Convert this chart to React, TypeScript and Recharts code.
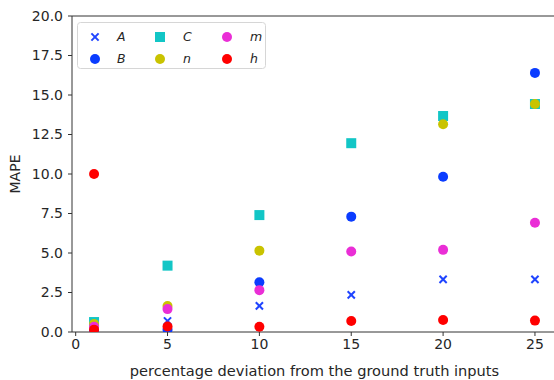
import React from "react";
import {
  ScatterChart,
  Scatter,
  XAxis,
  YAxis,
  ReferenceLine,
  Legend,
} from "recharts";

// ---- data ----
const deviations = [1, 5, 10, 15, 20, 25];
const seriesA = [0.1, 0.7, 1.65, 2.35, 3.33, 3.33];
const seriesB = [0.1, 0.15, 3.15, 7.3, 9.83, 16.4];
const seriesC = [0.63, 4.2, 7.4, 11.95, 13.67, 14.43];
const seriesN: (number | null)[] = [0.5, 1.65, 5.15, null, 13.15, 14.43];
const seriesM = [0.33, 1.45, 2.65, 5.1, 5.2, 6.92];
const seriesHx = [1, 1, 5, 10, 15, 20, 25];
const seriesHy = [10.0, 0.15, 0.35, 0.33, 0.7, 0.76, 0.72];
const xTicks = [0, 5, 10, 15, 20, 25];
const yTicks = [0, 2.5, 5, 7.5, 10, 12.5, 15, 17.5, 20];

const FONT = "'DejaVu Sans', sans-serif";
const TEXT = "#262626";
const AXIS = "#333333";

type Marker = "x" | "circle" | "square";

const toPoints = (xs: number[], ys: (number | null)[]) =>
  xs
    .map((x, i) => ({ x, y: ys[i] }))
    .filter((p) => p.y !== null && p.y !== undefined);

const seriesList: { name: string; color: string; marker: Marker; data: any[] }[] = [
  { name: "A", color: "#1f44ff", marker: "x", data: toPoints(deviations, seriesA) },
  { name: "B", color: "#0a3cff", marker: "circle", data: toPoints(deviations, seriesB) },
  { name: "C", color: "#12c6c6", marker: "square", data: toPoints(deviations, seriesC) },
  { name: "n", color: "#c9c300", marker: "circle", data: toPoints(deviations, seriesN) },
  { name: "m", color: "#ea2ed6", marker: "circle", data: toPoints(deviations, seriesM) },
  { name: "h", color: "#ff0000", marker: "circle", data: toPoints(seriesHx, seriesHy) },
];

const drawMarker = (marker: Marker, color: string, cx: number, cy: number) => {
  if (marker === "x") {
    const d = 3.6;
    return (
      <g>
        <line x1={cx - d} y1={cy - d} x2={cx + d} y2={cy + d} stroke={color} strokeWidth={2} />
        <line x1={cx - d} y1={cy + d} x2={cx + d} y2={cy - d} stroke={color} strokeWidth={2} />
      </g>
    );
  }
  if (marker === "square") {
    const s = 10;
    return <rect x={cx - s / 2} y={cy - s / 2} width={s} height={s} fill={color} />;
  }
  return <circle cx={cx} cy={cy} r={5} fill={color} />;
};

const makeShape = (marker: Marker, color: string) => (props: any) => {
  const { cx, cy } = props;
  if (cx == null || cy == null) return <g />;
  return drawMarker(marker, color, cx, cy);
};

const LegendBox = () => {
  const colX = [18, 83, 150];
  const labX = [40, 106, 173];
  const rowY = [15, 37];
  return (
    <svg width={189} height={47} style={{ display: "block" }}>
      <rect x={0.5} y={0.5} width={188} height={46} rx={3} ry={3} fill="rgba(255,255,255,0.8)" stroke="#d6d6d6" />
      {seriesList.map((s, i) => {
        const col = Math.floor(i / 2);
        const row = i % 2;
        return (
          <g key={s.name}>
            {drawMarker(s.marker, s.color, colX[col], rowY[row])}
            <text
              x={labX[col]}
              y={rowY[row]}
              dy="0.35em"
              fontFamily={FONT}
              fontStyle="italic"
              fontSize={12.5}
              fill={TEXT}
            >
              {s.name}
            </text>
          </g>
        );
      })}
    </svg>
  );
};

export default function App() {
  return (
    <div
      style={{
        position: "fixed",
        left: 0,
        top: 0,
        width: 554,
        height: 380,
        overflow: "hidden",
        background: "#ffffff",
      }}
    >
      <ScatterChart
        width={562}
        height={380}
        margin={{ top: 16, right: 5, bottom: 0, left: 0 }}
        style={{ fontFamily: FONT }}
      >
        <XAxis
          type="number"
          dataKey="x"
          domain={[-0.2, 26.2]}
          ticks={xTicks}
          allowDataOverflow
          height={48}
          tickSize={4}
          tickMargin={3}
          stroke={AXIS}
          tick={{ fill: TEXT, fontSize: 14, fontFamily: FONT }}
          label={{
            value: "percentage deviation from the ground truth inputs",
            position: "insideBottom",
            offset: 4,
            fill: TEXT,
            fontSize: 14.6,
            fontFamily: FONT,
          }}
        />
        <YAxis
          type="number"
          dataKey="y"
          domain={[0, 20]}
          ticks={yTicks}
          allowDataOverflow
          width={72}
          tickSize={4}
          tickMargin={5}
          stroke={AXIS}
          tickFormatter={(v: number) => v.toFixed(1)}
          tick={{ fill: TEXT, fontSize: 14, fontFamily: FONT }}
          label={{
            value: "MAPE",
            angle: -90,
            position: "center",
            dx: -21,
            fill: TEXT,
            fontSize: 14,
            fontFamily: FONT,
          }}
        />
        <ReferenceLine y={20} stroke={AXIS} strokeWidth={1} />
        <ReferenceLine x={26.2} stroke={AXIS} strokeWidth={1} />
        {seriesList.map((s) => (
          <Scatter
            key={s.name}
            name={s.name}
            data={s.data}
            fill={s.color}
            isAnimationActive={false}
            shape={makeShape(s.marker, s.color)}
          />
        ))}
        <Legend
          layout="horizontal"
          verticalAlign="middle"
          align="center"
          content={() => <LegendBox />}
          wrapperStyle={{ left: 77, top: 22, width: 189, height: 47, right: "auto", bottom: "auto" }}
        />
      </ScatterChart>
    </div>
  );
}
